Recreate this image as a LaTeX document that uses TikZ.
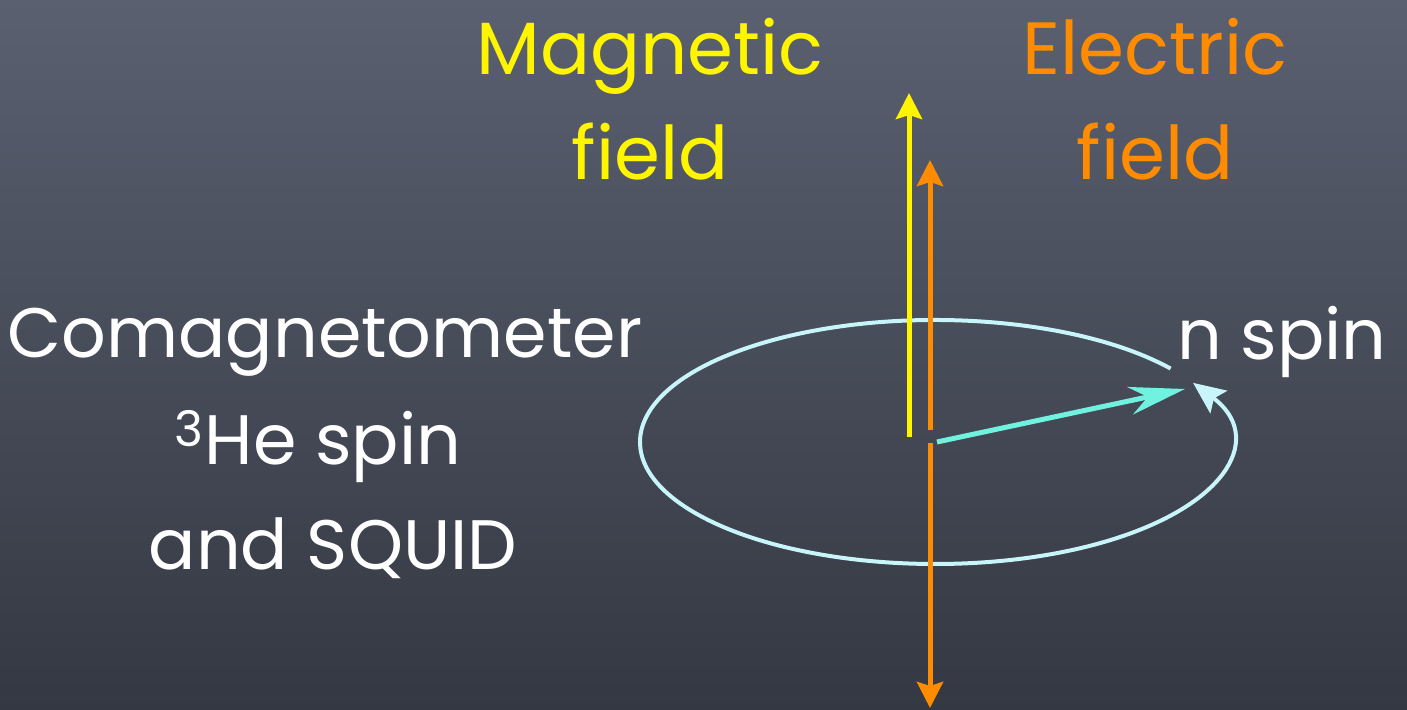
\documentclass[tikz,border=0pt]{standalone}
\usepackage{fontspec}
\setmainfont{Poppins}
\usetikzlibrary{positioning,arrows.meta}
\definecolor{boardtop}{HTML}{5A6070}
\definecolor{boardbot}{HTML}{343842}
\definecolor{magyellow}{HTML}{FFF500}
\definecolor{elorange}{HTML}{FF8C00}
\definecolor{spincyan}{HTML}{70F2E0}
\definecolor{orbitcyan}{HTML}{C8F5FA}

\begin{document}
\begin{tikzpicture}[x=0.5pt,y=0.5pt,
  chalk/.style={font=\fontsize{37}{52}\selectfont,anchor=base},
  chalkwhite/.style={font=\fontsize{35}{50}\selectfont,anchor=base,text=white},
  fieldarrow/.style={line width=2.5pt,-{Stealth[length=13pt,width=13pt,inset=2pt]}}]
  \shade[top color=boardtop,bottom color=boardbot] (0,0) rectangle (1407,710);
  \useasboundingbox (0,0) rectangle (1407,710);

  % labels
  \node[chalk,text=magyellow] (mag) at (650,635) {Magnetic};
  \node[chalk,text=magyellow] (magfield) at (650,530) {field};
  \node[chalk,text=elorange] (el) at (1155,635) {Electric};
  \node[chalk,text=elorange] (elfield) at (1155,530) {field};
  \node[chalkwhite] (comag) at (325,352) {Comagnetometer};
  \node[chalkwhite] (he) at (318,245) {\textsuperscript{3}He spin};
  \node[chalkwhite] (squid) at (333,140) {and SQUID};
  \node[chalkwhite] (nspin) at (1282,350) {n spin};

  % precession orbit
  \coordinate (ctr) at (935,268);
  \draw[orbitcyan,line width=2pt,-{Stealth[length=16pt,width=14pt,inset=3pt]}]
    (ctr) ++(37:295 and 122) arc[start angle=37,end angle=389,x radius=295,y radius=122];

  % fields
  \coordinate (b0) at (909,273);
  \coordinate (b1) at (909,617);
  \coordinate (eup0) at (930,280);
  \coordinate (eup1) at (930,550);
  \coordinate (edn0) at (930,267);
  \coordinate (edn1) at (930,2);
  \draw[fieldarrow,magyellow] (b0) -- (b1);
  \draw[fieldarrow,elorange] (eup0) -- (eup1);
  \draw[fieldarrow,elorange] (edn0) -- (edn1);

  % neutron spin
  \coordinate (s0) at (937,268);
  \coordinate (s1) at (1185,321);
  \draw[spincyan,line width=2.5pt,-{Stealth[length=28pt,width=14pt,inset=9pt]}] (s0) -- (s1);
\end{tikzpicture}
\end{document}
